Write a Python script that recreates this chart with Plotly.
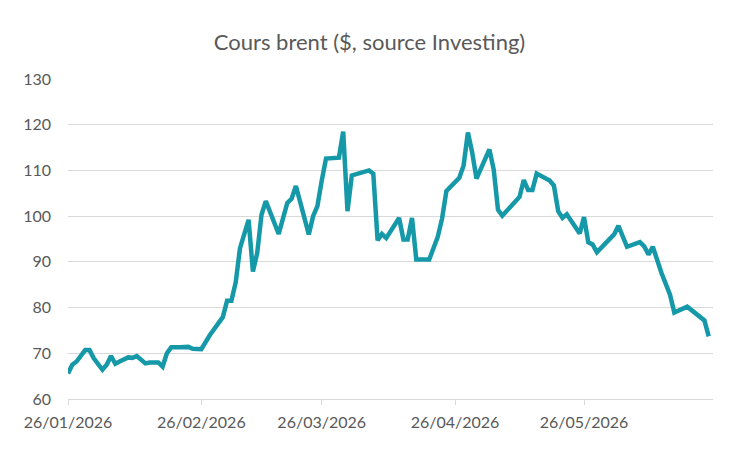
import pandas as pd
import plotly.graph_objects as go

start = pd.Timestamp("2026-01-26")
day_offsets = [0, 1, 2, 4, 5, 6, 8, 9, 10, 11, 12, 14, 15, 16, 18, 19, 21, 22, 23, 24,
               26, 28, 29, 31, 33, 36, 37, 38, 39, 40, 42, 43, 44, 45, 46, 49, 51, 52, 53,
               56, 57, 58, 59, 60, 63, 64, 65, 66, 70, 71, 72, 73, 74, 77, 78, 79, 80, 81,
               84, 86, 87, 88, 91, 92, 93, 94, 95, 98, 99, 100, 101, 105, 106, 107, 108,
               109, 112, 113, 114, 115, 116, 119, 120, 121, 122, 123, 127, 128, 130, 133,
               134, 135, 136, 138, 140, 141, 144, 146, 148, 149]
prices = [65.6, 67.5, 68.2, 70.7, 70.7, 68.9, 66.4, 67.5, 69.4, 67.7, 68.2, 69.1, 69.0,
          69.4, 67.8, 68.0, 68.0, 67.1, 70.0, 71.3, 71.3, 71.4, 71.0, 70.9, 74.0, 77.9,
          81.5, 81.5, 85.5, 93.0, 99.2, 87.9, 91.9, 100.3, 103.3, 96.1, 102.9, 103.8,
          106.6, 96.0, 100.0, 102.2, 107.7, 112.6, 112.8, 118.5, 101.1, 108.9, 110.0,
          109.3, 94.7, 96.1, 95.2, 99.6, 94.9, 94.9, 99.6, 90.5, 90.5, 95.5, 99.5, 105.5,
          108.4, 111.1, 118.3, 113.9, 108.2, 114.6, 110.2, 101.4, 100.1, 104.2, 107.9,
          105.7, 105.7, 109.3, 107.8, 106.7, 101.1, 99.6, 100.4, 96.2, 99.8, 94.3, 93.8,
          92.1, 96.0, 97.9, 93.3, 94.3, 93.4, 91.6, 93.3, 87.6, 82.8, 78.9, 80.2, 78.8,
          77.2, 73.7]
dates = [start + pd.Timedelta(days=d) for d in day_offsets]

tick_dates = ["2026-01-26", "2026-02-26", "2026-03-26", "2026-04-26", "2026-05-26"]
tick_labels = ["26/01/2026", "26/02/2026", "26/03/2026", "26/04/2026", "26/05/2026"]
y_ticks = [60, 70, 80, 90, 100, 110, 120, 130]

fig = go.Figure()
fig.add_trace(go.Scatter(x=dates, y=prices, mode="lines",
                         line=dict(color="#1598A8", width=4.5), hoverinfo="x+y"))

font_family = "Lato, 'Open Sans', sans-serif"
fig.update_layout(
    width=739, height=457,
    margin=dict(l=68, r=26, t=79, b=58),
    paper_bgcolor="white", plot_bgcolor="white",
    showlegend=False,
    title=dict(text="Cours brent ($, source Investing)", x=0.5, xref="container",
               xanchor="center", y=1 - 42 / 457, yref="container", yanchor="middle",
               font=dict(family=font_family, size=22, color="#595959")),
    font=dict(family=font_family, color="#595959"),
)
fig.update_xaxes(
    type="date", range=["2026-01-26", "2026-06-25"],
    tickmode="array", tickvals=tick_dates, ticktext=tick_labels,
    showgrid=False, showline=True, linecolor="#D9D9D9", linewidth=1,
    ticks="outside", ticklen=5, tickcolor="#D9D9D9", ticklabelstandoff=4,
    tickfont=dict(family=font_family, size=16, color="#595959"),
    zeroline=False,
)
fig.update_yaxes(
    range=[60, 130], tickmode="array", tickvals=y_ticks,
    showgrid=True, gridcolor="#D9D9D9", gridwidth=1,
    showline=False, zeroline=False, ticks="", ticklabelstandoff=16,
    tickfont=dict(family=font_family, size=16, color="#595959"),
)
fig.write_html("out.html")
